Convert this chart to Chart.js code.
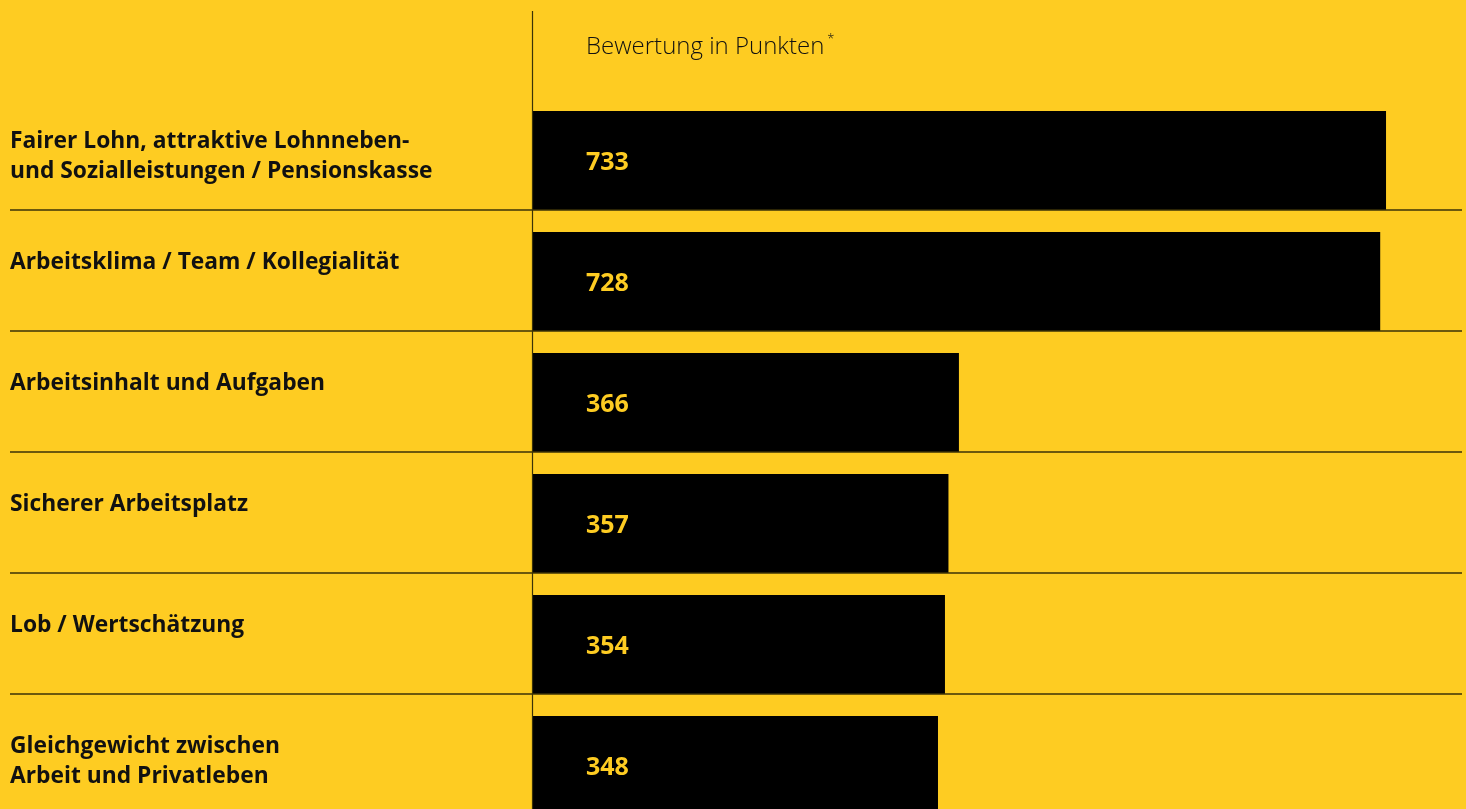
<!DOCTYPE html>
<html>
<head>
<meta charset="utf-8">
<script src="https://cdn.jsdelivr.net/npm/chart.js@4"></script>
<style>
  html, body { margin: 0; padding: 0; background: #FECC22; overflow: hidden; }
  #wrap { position: relative; width: 1466px; height: 840px; }
</style>
</head>
<body>
<div id="wrap"><canvas id="chart" width="1466" height="840"></canvas></div>
<script>
// data
const categories = [
    ['Fairer Lohn, attraktive Lohnneben-', 'und Sozialleistungen / Pensionskasse'],
    ['Arbeitsklima / Team / Kollegialität'],
    ['Arbeitsinhalt und Aufgaben'],
    ['Sicherer Arbeitsplatz'],
    ['Lob / Wertschätzung'],
    ['Gleichgewicht zwischen', 'Arbeit und Privatleben']
];
const points = [733, 728, 366, 357, 354, 348];
const axisTitle = 'Bewertung in Punkten';
const axisMax = 800;

const lineColor = '#3b3207';

// draws the frame lines, row labels, value labels and title
const decorations = {
    id: 'decorations',
    afterDatasetsDraw(chart) {
        const ctx = chart.ctx;
        const area = chart.chartArea;
        const bars = chart.getDatasetMeta(0).data;
        ctx.save();

        // vertical divider
        ctx.strokeStyle = lineColor;
        ctx.lineWidth = 1.2;
        ctx.beginPath();
        ctx.moveTo(area.left - 0.5, 11);
        ctx.lineTo(area.left - 0.5, chart.height);
        ctx.stroke();

        // row separators at bar bottoms
        ctx.lineWidth = 1.6;
        bars.forEach((bar, i) => {
            if (i === bars.length - 1) return;
            const y = bar.y + bar.height / 2;
            ctx.beginPath();
            ctx.moveTo(10, y);
            ctx.lineTo(1462, y);
            ctx.stroke();
        });

        // row labels
        ctx.fillStyle = '#111';
        ctx.font = 'bold 22.8px "Open Sans"';
        ctx.textBaseline = 'middle';
        ctx.textAlign = 'left';
        bars.forEach((bar, i) => {
            const top = bar.y - bar.height / 2;
            categories[i].forEach((line, j) => {
                ctx.fillText(line, 10, top + 31 + j * 30);
            });
        });

        // value labels
        ctx.fillStyle = '#FECC22';
        ctx.font = 'bold 25px "Open Sans"';
        bars.forEach((bar, i) => {
            ctx.fillText(String(points[i]), bar.base + 53, bar.y + 2);
        });

        // axis title
        ctx.fillStyle = '#111';
        ctx.font = '300 24px "Open Sans"';
        ctx.fillText(axisTitle, area.left + 53, 47);
        const w = ctx.measureText(axisTitle).width;
        ctx.font = '300 13px "Open Sans"';
        ctx.fillText('*', area.left + 53 + w + 3, 39);

        ctx.restore();
    }
};

new Chart(document.getElementById('chart'), {
    type: 'bar',
    data: {
        labels: categories,
        datasets: [{
            data: points,
            backgroundColor: '#000000',
            borderWidth: 0,
            categoryPercentage: 1,
            barPercentage: 99 / 121
        }]
    },
    options: {
        indexAxis: 'y',
        responsive: false,
        animation: false,
        layout: { padding: { left: 533, top: 100, right: 2, bottom: 14 } },
        plugins: { legend: { display: false }, tooltip: { enabled: false } },
        scales: {
            x: { display: false, min: 0, max: axisMax },
            y: { display: false }
        }
    },
    plugins: [decorations]
});
</script>
</body>
</html>
